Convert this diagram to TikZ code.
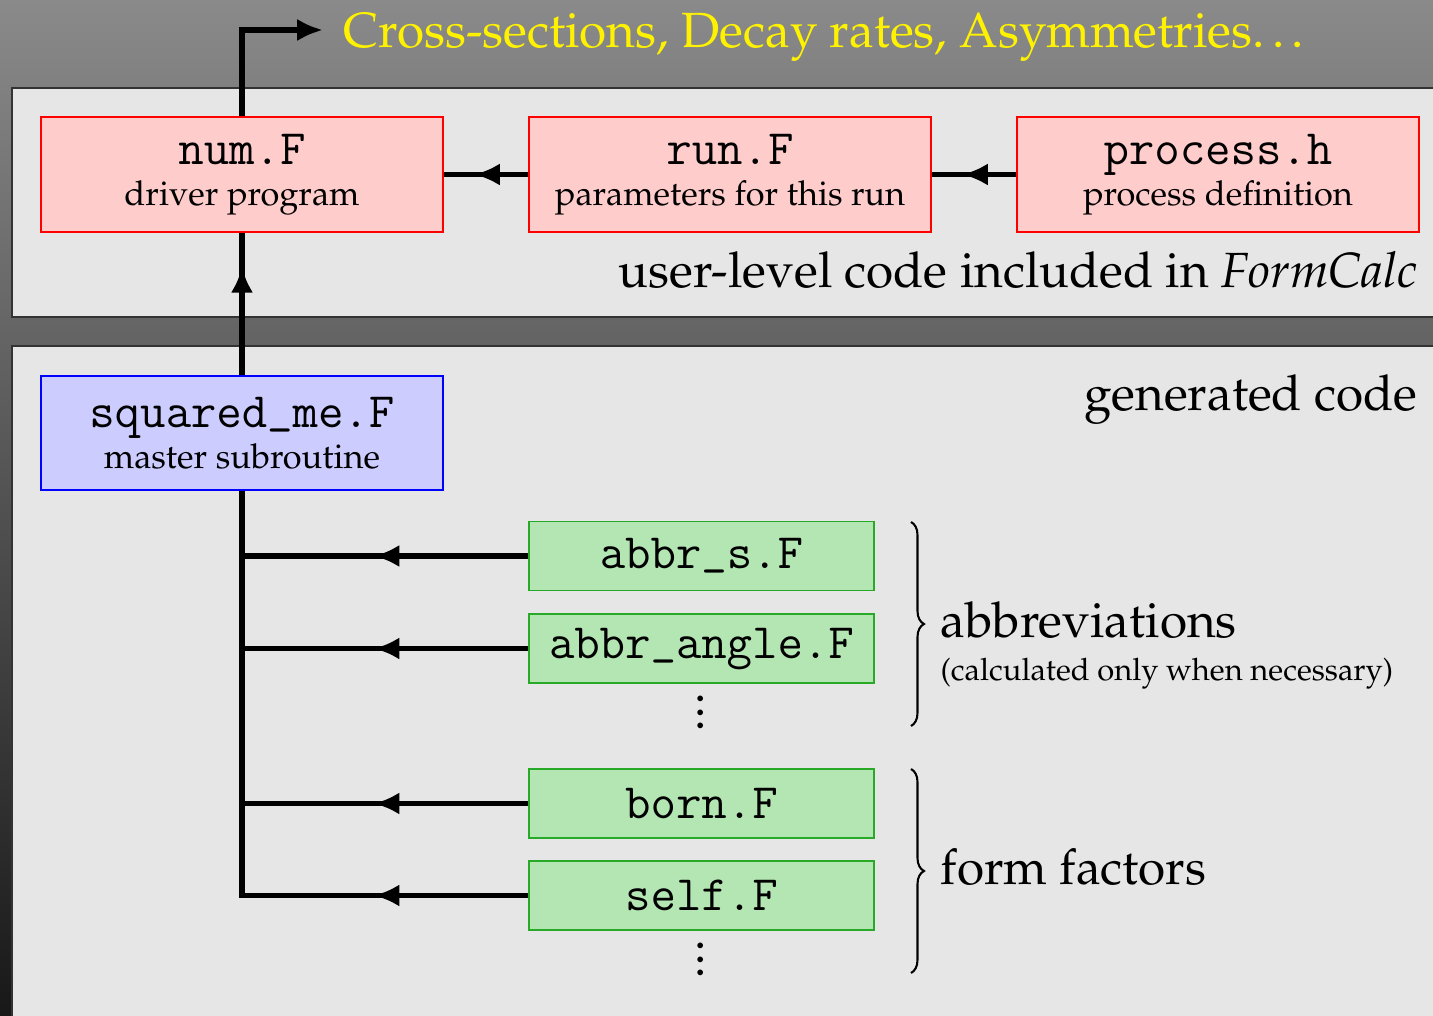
\documentclass[tikz,border=0pt]{standalone}
\usepackage[OT1]{fontenc}
\usepackage{mathpazo}
\renewcommand{\ttdefault}{cmtt}
\usetikzlibrary{arrows.meta,decorations.markings,decorations.pathreplacing}

\definecolor{bgtop}{RGB}{138,138,138}
\definecolor{bgbottom}{RGB}{24,24,24}
\definecolor{panelgray}{RGB}{230,230,230}
\definecolor{abbrfill}{RGB}{180,230,180}
\definecolor{abbrdraw}{RGB}{40,170,40}

\begin{document}
\begin{tikzpicture}[x=1.0235cm, y=1.0235cm,
	redbox/.style={draw=red, fill=red!20, minimum width=4.115cm, minimum height=1.177cm, align=center},
	bluebox/.style={draw=blue, fill=blue!20, minimum width=4.115cm, minimum height=1.167cm, align=center},
	greenbox/.style={draw=abbrdraw, fill=abbrfill, minimum width=3.531cm, minimum height=0.706cm, font=\Large\ttfamily},
	conn/.style={line width=1.5pt},
	midarrow/.style={postaction={decorate}, decoration={markings, mark=at position #1 with {\arrow{Latex[length=7.5pt,width=6.5pt]}}}},
	panelbox/.style={draw=black!80, fill=panelgray, line width=0.6pt},
	bigtext/.style={font=\Large, inner sep=0pt},
	curly/.style={decorate, decoration={brace, amplitude=0.133cm}, line width=0.6pt}
]

	\useasboundingbox (0,0) rectangle (14.33,10.15);
	\shade[top color=bgtop, bottom color=bgbottom] (0,0) rectangle (14.33,10.15);

	\draw[panelbox] (0.12,6.98) rectangle (14.6,9.27);
	\draw[panelbox] (0.12,-0.2) rectangle (14.6,6.69);

	\node (results)[bigtext, yellow, anchor=base west] at (3.43,9.67) {Cross-sections, Decay rates, Asymmetries\ldots};
	\coordinate (out) at (3.23,9.85);

	\node (num)[redbox] at (2.42,8.405) {{\Large\texttt{num.F}}\\driver program};
	\node (run)[redbox] at (7.30,8.405) {{\Large\texttt{run.F}}\\parameters for this run};
	\node (proc)[redbox] at (12.18,8.405) {{\Large\texttt{process.h}}\\process definition};
	\node (user)[bigtext, anchor=base east] at (14.18,7.27) {user-level code included in \textit{FormCalc}};

	\node (gen)[bigtext, anchor=base east] at (14.18,6.05) {generated code};
	\node (sq)[bluebox] at (2.42,5.82) {{\Large\texttt{squared\string_me.F}}\\master subroutine};

	\node (abbrs)[greenbox] at (7.015,4.59) {abbr\string_s.F};
	\node (abbrang)[greenbox] at (7.015,3.665) {abbr\string_angle.F};
	\node (dotsA)[font=\Large] at (7.01,3.13) {$\vdots$};
	\node (born)[greenbox] at (7.015,2.115) {born.F};
	\node (self)[greenbox] at (7.015,1.195) {self.F};
	\node (dotsB)[font=\Large] at (7.01,0.66) {$\vdots$};

	\node (abbrev)[bigtext, anchor=base west] at (9.40,3.78) {abbreviations};
	\node (calc)[inner sep=0pt, anchor=base west, font=\small] at (9.40,3.35) {(calculated only when necessary)};
	\node (ff)[bigtext, anchor=base west] at (9.40,1.31) {form factors};

	\draw[curly] (9.11,4.93) -- (9.11,2.89);
	\draw[curly] (9.11,2.46) -- (9.11,0.42);

	\draw[conn, -{Latex[length=7.5pt,width=6.5pt]}] (num.north) |- (out);
	\draw[conn, midarrow=0.64] (run.west) -- (num.east);
	\draw[conn, midarrow=0.64] (proc.west) -- (run.east);
	\draw[conn, midarrow=0.76] (sq.north) -- (num.south);

	\draw[conn] (sq.south) |- (self.west);
	\draw[conn, midarrow=0.54] (abbrs.west) -- (abbrs.west -| sq.south);
	\draw[conn, midarrow=0.54] (abbrang.west) -- (abbrang.west -| sq.south);
	\draw[conn, midarrow=0.54] (born.west) -- (born.west -| sq.south);
	\draw[conn, midarrow=0.54] (self.west) -- (self.west -| sq.south);

\end{tikzpicture}
\end{document}
